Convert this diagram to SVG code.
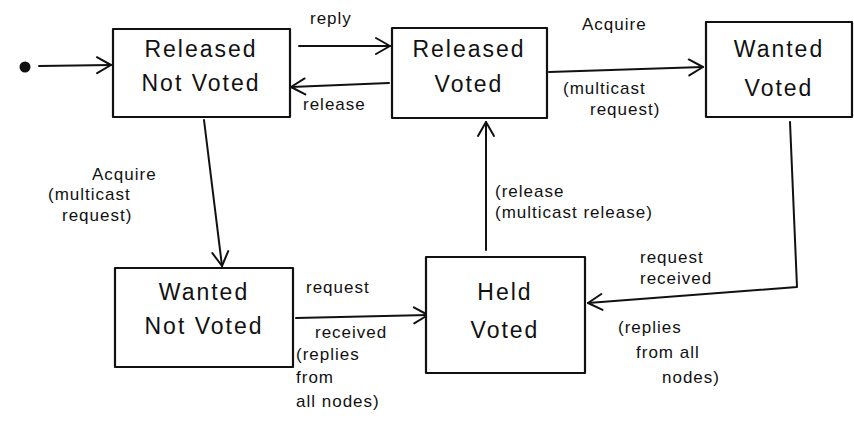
<svg xmlns="http://www.w3.org/2000/svg" width="854" height="430" viewBox="0 0 854 430">
<style>
.box{fill:#fff;stroke:#111;stroke-width:2.2;stroke-linejoin:round}
.edge{fill:none;stroke:#111;stroke-width:2;stroke-linecap:round;stroke-linejoin:round}
.nt{font-family:"Liberation Sans",Arial,sans-serif;font-size:23px;fill:#111;text-anchor:middle;letter-spacing:2px}
.el{font-family:"Liberation Sans",Arial,sans-serif;font-size:17px;fill:#111;letter-spacing:1px}
</style>
<defs>
<marker id="ah" viewBox="0 0 20 20" refX="18" refY="10" markerWidth="20" markerHeight="20" markerUnits="userSpaceOnUse" orient="auto">
<path d="M4,2 L18,10 L4,18" fill="none" stroke="#111" stroke-width="2" stroke-linecap="round" stroke-linejoin="round"/>
</marker>
</defs>
<rect width="854" height="430" fill="#fff"/>
<g id="connectors">
<circle cx="25" cy="67" r="5.5" fill="#111"/>
<path class="edge" d="M39,66 L111,65" marker-end="url(#ah)"/>
<path class="edge" d="M299,46 L390,46" marker-end="url(#ah)"/>
<path class="edge" d="M389,83 L291,87" marker-end="url(#ah)"/>
<path class="edge" d="M549,72 L703,67" marker-end="url(#ah)"/>
<path class="edge" d="M204,120 L222,266" marker-end="url(#ah)"/>
<path class="edge" d="M296,318 L428,315" marker-end="url(#ah)"/>
<path class="edge" d="M486,250 L486,122" marker-end="url(#ah)"/>
<path class="edge" d="M790,122 L797,287 L588,303" marker-end="url(#ah)"/>
<text class="el" x="310" y="24" font-size="18">reply</text>
<text class="el" x="303" y="110" font-size="18">release</text>
<text class="el" x="582" y="30" font-size="20">Acquire</text>
<text class="el" x="563" y="94">(multicast</text>
<text class="el" x="590" y="115">request)</text>
<text class="el" x="92" y="180" font-size="20">Acquire</text>
<text class="el" x="48" y="200">(multicast</text>
<text class="el" x="62" y="221">request)</text>
<text class="el" x="306" y="293" font-size="18">request</text>
<text class="el" x="315" y="338" font-size="18">received</text>
<text class="el" x="296" y="360">(replies</text>
<text class="el" x="296" y="383">from</text>
<text class="el" x="296" y="407">all nodes)</text>
<text class="el" x="495" y="197">(release</text>
<text class="el" x="495" y="218">(multicast release)</text>
<text class="el" x="640" y="263">request</text>
<text class="el" x="640" y="284">received</text>
<text class="el" x="618" y="333">(replies</text>
<text class="el" x="636" y="358">from all</text>
<text class="el" x="662" y="383">nodes)</text>
</g>
<g id="released-not-voted">
<rect class="box" x="113" y="29" width="177" height="88"/>
<text class="nt" x="201" y="57">Released</text>
<text class="nt" x="201" y="91">Not Voted</text>
</g>
<g id="released-voted">
<rect class="box" x="392" y="28" width="155" height="90"/>
<text class="nt" x="469" y="57">Released</text>
<text class="nt" x="469" y="92">Voted</text>
</g>
<g id="wanted-voted">
<rect class="box" x="706" y="22" width="146" height="95"/>
<text class="nt" x="779" y="57">Wanted</text>
<text class="nt" x="779" y="96">Voted</text>
</g>
<g id="wanted-not-voted">
<rect class="box" x="115" y="268" width="178" height="99"/>
<text class="nt" x="204" y="300">Wanted</text>
<text class="nt" x="204" y="334">Not Voted</text>
</g>
<g id="held-voted">
<rect class="box" x="426" y="257" width="159" height="116"/>
<text class="nt" x="505" y="300">Held</text>
<text class="nt" x="505" y="338">Voted</text>
</g>
</svg>
